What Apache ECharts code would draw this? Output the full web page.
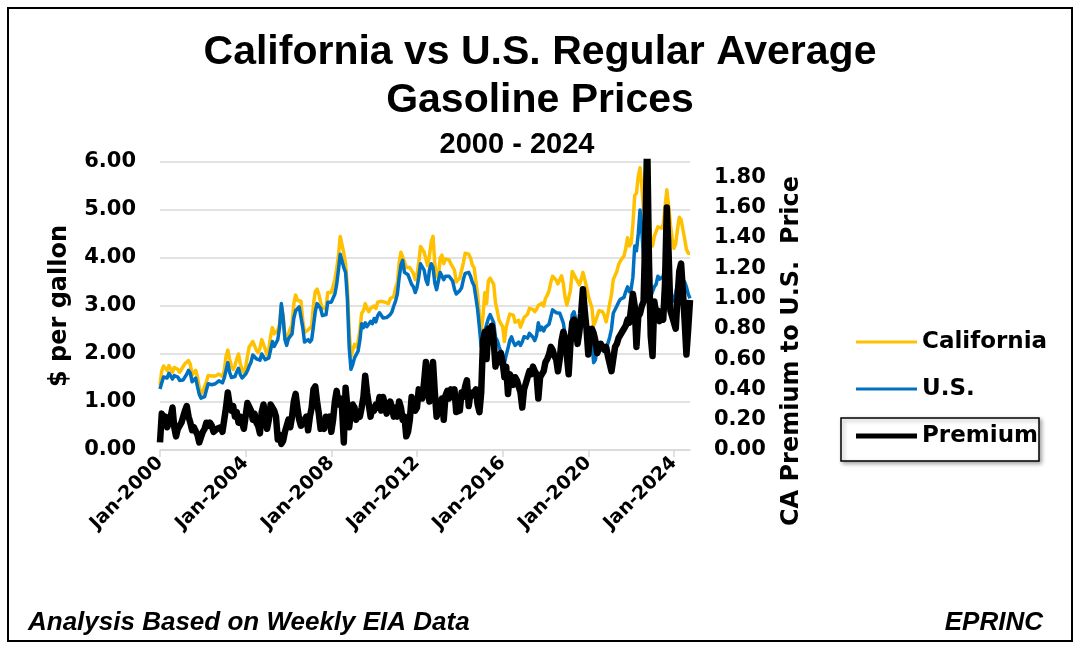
<!DOCTYPE html>
<html><head><meta charset="utf-8">
<script src="https://cdn.jsdelivr.net/npm/echarts@6/dist/echarts.min.js"></script>
<style>html,body{margin:0;padding:0;background:#fff}#c{width:1083px;height:653px}</style>
</head><body><div id="c"></div>
<script>
// Monthly categories Jan-2000 .. Oct-2024
const monthNames = ['Jan','Feb','Mar','Apr','May','Jun','Jul','Aug','Sep','Oct','Nov','Dec'];
const categories = [];
for (let y = 2000; y <= 2024; y++) {
  for (let m = 0; m < 12; m++) {
    if (y === 2024 && m > 9) break;
    categories.push(monthNames[m] + '-' + y);
  }
}
const leftTicks = [0, 1, 2, 3, 4, 5, 6];
const rightTicks = [0, 0.2, 0.4, 0.6, 0.8, 1.0, 1.2, 1.4, 1.6, 1.8];

// U.S. regular gasoline, $/gal (monthly)
const usPrice = [
1.27,1.40,1.52,1.48,1.50,1.60,1.57,1.48,1.55,1.53,1.52,1.45,
1.45,1.46,1.43,1.58,1.66,1.60,1.42,1.40,1.50,1.32,1.16,1.08,
1.10,1.11,1.25,1.38,1.38,1.36,1.39,1.38,1.39,1.44,1.42,1.40,
1.50,1.66,1.82,1.62,1.51,1.49,1.53,1.63,1.70,1.57,1.50,1.49,
1.58,1.65,1.75,1.83,1.98,1.96,1.90,1.87,1.87,2.00,1.99,1.88,
1.84,1.92,2.09,2.26,2.16,2.18,2.30,2.55,3.05,2.75,2.30,2.18,
2.32,2.30,2.42,2.75,2.90,2.86,2.98,2.95,2.55,2.25,2.22,2.30,
2.25,2.30,2.58,2.88,3.05,3.00,2.95,2.80,2.80,2.82,3.08,3.05,
3.08,3.05,3.25,3.45,3.75,4.08,4.10,3.80,3.70,3.15,2.15,1.68,
1.78,1.92,1.95,2.06,2.28,2.63,2.55,2.65,2.57,2.58,2.68,2.63,
2.74,2.67,2.80,2.86,2.88,2.75,2.75,2.76,2.72,2.82,2.88,3.00,
3.10,3.25,3.58,3.85,3.95,3.70,3.66,3.65,3.62,3.45,3.40,3.28,
3.38,3.60,3.88,3.92,3.75,3.55,3.45,3.75,3.88,3.80,3.48,3.34,
3.35,3.70,3.72,3.55,3.62,3.63,3.62,3.60,3.52,3.35,3.25,3.27,
3.32,3.38,3.55,3.68,3.68,3.70,3.62,3.50,3.42,3.18,2.92,2.55,
2.15,2.22,2.48,2.48,2.74,2.82,2.80,2.65,2.35,2.28,2.15,2.05,
1.95,1.80,1.98,2.12,2.28,2.36,2.25,2.18,2.22,2.25,2.18,2.25,
2.36,2.32,2.33,2.43,2.40,2.35,2.28,2.38,2.65,2.50,2.56,2.48,
2.56,2.60,2.62,2.77,2.92,2.90,2.86,2.86,2.85,2.88,2.65,2.40,
2.26,2.32,2.52,2.82,2.88,2.72,2.75,2.62,2.60,2.65,2.60,2.56,
2.56,2.45,2.25,1.82,1.88,2.10,2.20,2.18,2.18,2.16,2.12,2.22,
2.35,2.52,2.85,2.88,3.00,3.08,3.14,3.16,3.18,3.30,3.40,3.30,
3.35,3.60,4.25,4.15,4.50,5.00,4.55,4.00,3.75,3.85,3.55,3.20,
3.30,3.40,3.45,3.62,3.56,3.58,3.62,3.85,3.85,3.62,3.34,3.15,
3.10,3.28,3.45,3.70,3.75,3.55,3.50,3.40,3.25,3.16
];

// California regular gasoline, $/gal (monthly)
const caPrice = [
1.35,1.65,1.75,1.72,1.66,1.76,1.74,1.62,1.72,1.74,1.68,1.62,
1.64,1.74,1.80,1.84,1.86,1.78,1.56,1.55,1.66,1.52,1.30,1.16,
1.22,1.25,1.42,1.55,1.56,1.54,1.56,1.54,1.54,1.58,1.56,1.53,
1.65,1.95,2.08,1.90,1.75,1.68,1.75,1.90,2.00,1.80,1.68,1.62,
1.72,1.95,2.15,2.20,2.26,2.22,2.08,2.03,2.12,2.30,2.32,2.10,
1.98,2.10,2.38,2.55,2.42,2.40,2.50,2.62,3.02,2.80,2.40,2.28,
2.42,2.45,2.62,3.05,3.23,3.12,3.15,3.10,2.70,2.45,2.44,2.50,
2.48,2.58,3.03,3.30,3.35,3.25,3.08,2.95,2.95,2.95,3.28,3.25,
3.28,3.30,3.55,3.78,4.05,4.45,4.48,4.10,3.88,3.40,2.48,1.95,
2.08,2.20,2.15,2.25,2.50,2.85,2.90,3.05,2.95,2.88,2.95,2.92,
3.00,2.95,3.08,3.12,3.10,3.10,3.08,3.08,3.05,3.15,3.15,3.20,
3.38,3.48,3.90,4.12,4.14,3.92,3.80,3.76,3.80,3.78,3.68,3.55,
3.65,3.90,4.24,4.26,4.12,3.98,3.84,4.05,4.34,4.45,3.88,3.64,
3.58,4.00,4.06,3.88,3.98,4.02,3.96,3.88,3.88,3.75,3.50,3.50,
3.58,3.62,3.90,4.10,4.14,4.08,4.00,3.86,3.80,3.52,3.22,2.80,
2.50,2.78,3.28,3.05,3.52,3.58,3.62,3.45,3.07,2.90,2.70,2.67,
2.57,2.26,2.56,2.52,2.83,2.86,2.81,2.66,2.68,2.70,2.56,2.57,
2.76,2.80,2.83,2.95,2.95,2.93,2.88,2.93,3.01,3.02,3.06,3.00,
3.16,3.22,3.32,3.49,3.62,3.58,3.54,3.46,3.47,3.63,3.47,3.18,
3.02,3.05,3.32,3.72,3.72,3.58,3.55,3.44,3.55,3.70,3.56,3.40,
3.21,3.22,2.97,2.59,2.68,2.72,2.90,2.94,2.88,2.80,2.67,2.84,
3.05,3.24,3.55,3.56,3.72,3.86,3.94,3.98,4.04,4.20,4.42,4.25,
4.30,4.70,5.30,5.35,5.70,5.88,5.50,5.00,5.20,5.85,5.00,4.30,
4.25,4.45,4.55,4.65,4.62,4.62,4.70,5.05,5.42,5.10,4.70,4.40,
4.20,4.30,4.60,4.85,4.80,4.60,4.40,4.18,4.10,4.10
];

// CA premium to U.S. price, $/gal (monthly)
const premium = [
0.05,0.24,0.20,0.22,0.15,0.18,0.22,0.28,0.15,0.09,0.14,0.16,
0.18,0.22,0.26,0.29,0.22,0.18,0.13,0.15,0.16,0.10,0.05,0.04,
0.12,0.14,0.18,0.16,0.18,0.16,0.12,0.11,0.14,0.13,0.15,0.12,
0.13,0.28,0.38,0.30,0.26,0.29,0.22,0.25,0.18,0.22,0.18,0.14,
0.14,0.31,0.30,0.26,0.20,0.24,0.18,0.16,0.11,0.25,0.30,0.22,
0.14,0.20,0.30,0.28,0.26,0.22,0.07,0.10,0.04,0.06,0.12,0.12,
0.20,0.15,0.22,0.32,0.37,0.28,0.20,0.16,0.15,0.20,0.22,0.13,
0.22,0.28,0.40,0.42,0.32,0.24,0.14,0.16,0.14,0.22,0.20,0.22,
0.12,0.20,0.32,0.39,0.30,0.34,0.28,0.05,0.41,0.28,0.15,0.25,
0.30,0.28,0.20,0.24,0.22,0.28,0.35,0.49,0.38,0.30,0.22,0.28,
0.26,0.30,0.28,0.35,0.26,0.35,0.30,0.24,0.28,0.32,0.28,0.22,
0.28,0.22,0.32,0.28,0.20,0.22,0.09,0.12,0.20,0.35,0.28,0.26,
0.28,0.40,0.36,0.34,0.45,0.58,0.40,0.32,0.50,0.58,0.38,0.22,
0.22,0.30,0.34,0.20,0.36,0.39,0.34,0.40,0.36,0.40,0.25,0.24,
0.26,0.38,0.35,0.42,0.46,0.29,0.38,0.36,0.38,0.40,0.30,0.25,
0.38,0.72,0.78,0.60,0.80,0.76,0.82,0.72,0.55,0.62,0.58,0.64,
0.58,0.48,0.55,0.37,0.50,0.48,0.43,0.48,0.46,0.45,0.38,0.28,
0.40,0.44,0.48,0.52,0.50,0.55,0.52,0.50,0.34,0.48,0.50,0.52,
0.58,0.60,0.63,0.68,0.66,0.62,0.60,0.52,0.60,0.72,0.78,0.74,
0.74,0.50,0.70,0.84,0.86,0.80,0.70,0.78,0.90,1.06,0.92,0.80,
0.63,0.75,0.80,0.77,0.72,0.64,0.63,0.70,0.68,0.66,0.68,0.62,
0.62,0.52,0.60,0.68,0.70,0.74,0.76,0.78,0.80,0.82,0.86,0.84,
0.85,1.03,0.95,0.68,0.88,0.90,0.95,0.98,1.45,2.05,1.25,0.75,
0.62,0.98,0.90,0.92,0.85,0.88,0.86,1.10,1.60,1.30,0.92,0.88,
0.88,0.80,1.00,1.18,1.23,1.05,0.85,0.63,0.80,0.99
];

const AXF = 'DejaVu Sans';
const chart = echarts.init(document.getElementById('c'), null, {renderer: 'canvas'});
const legendText = {color: '#000', fontFamily: AXF, fontWeight: 'bold', fontSize: 23, lineHeight: 24};
function lg(name, top, h) {
  return {data: [name], left: 856, top: top, orient: 'vertical', padding: 0, icon: 'rect',
          itemWidth: 61, itemHeight: h, itemGap: 0, textStyle: legendText, z: 10};
}
chart.setOption({
  animation: false,
  backgroundColor: '#fff',
  grid: {left: 160, right: 393, top: 162, bottom: 203, containLabel: false},
  xAxis: {
    type: 'category', data: categories, boundaryGap: false,
    axisLine: {show: true, lineStyle: {color: '#d9d9d9', width: 1.5}},
    axisTick: {show: true, interval: 47, length: 7, lineStyle: {color: '#d9d9d9', width: 1.5}},
    axisLabel: {interval: 47, rotate: 45, margin: 10, color: '#000', fontFamily: AXF, fontWeight: 'bold', fontSize: 19},
    splitLine: {show: false}
  },
  yAxis: [
    {type: 'value', min: leftTicks[0], max: leftTicks[leftTicks.length - 1], interval: 1,
     axisLine: {show: false}, axisTick: {show: false},
     axisLabel: {margin: 24, color: '#000', fontFamily: AXF, fontWeight: 'bold', fontSize: 21,
                 formatter: v => v.toFixed(2)},
     splitLine: {show: true, lineStyle: {color: '#d9d9d9', width: 1.5}}},
    {type: 'value', position: 'right', min: 0, max: 1.9, interval: 0.2,
     axisLine: {show: false}, axisTick: {show: false},
     axisLabel: {margin: 24, color: '#000', fontFamily: AXF, fontWeight: 'bold', fontSize: 21,
                 formatter: v => (rightTicks.some(t => Math.abs(t - v) < 1e-6) ? v.toFixed(2) : '')},
     splitLine: {show: false}}
  ],
  legend: [lg('California', 330, 3), lg('U.S.', 377, 3), lg('Premium', 424, 5)],
  series: [
    {name: 'California', type: 'line', data: caPrice, yAxisIndex: 0, symbol: 'none', showSymbol: false,
     lineStyle: {color: '#FFC000', width: 3.5, join: 'round'}, itemStyle: {color: '#FFC000'}, z: 2},
    {name: 'U.S.', type: 'line', data: usPrice, yAxisIndex: 0, symbol: 'none', showSymbol: false,
     lineStyle: {color: '#0070C0', width: 3.5, join: 'round'}, itemStyle: {color: '#0070C0'}, z: 3},
    {name: 'Premium', type: 'line', data: premium, yAxisIndex: 1, symbol: 'none', showSymbol: false,
     lineStyle: {color: '#000', width: 6.5, join: 'round'}, itemStyle: {color: '#000'}, z: 4}
  ],
  graphic: [
    {type: 'rect', z: -1, shape: {x: 8, y: 8, width: 1064, height: 633},
     style: {fill: 'none', stroke: '#000', lineWidth: 2}},
    {type: 'rect', z: 1, shape: {x: 841, y: 418, width: 198, height: 43},
     style: {fill: '#fff', stroke: '#000', lineWidth: 1.5, shadowBlur: 4, shadowColor: 'rgba(0,0,0,0.35)', shadowOffsetX: 2, shadowOffsetY: 2}},
    {type: 'text', x: 540, y: 53, style: {text: 'California vs U.S. Regular Average', font: 'bold 41px "Liberation Sans"', fill: '#000', textAlign: 'center', textVerticalAlign: 'middle', align: 'center', verticalAlign: 'middle'}},
    {type: 'text', x: 540, y: 101, style: {text: 'Gasoline Prices', font: 'bold 41px "Liberation Sans"', fill: '#000', textAlign: 'center', textVerticalAlign: 'middle', align: 'center', verticalAlign: 'middle'}},
    {type: 'text', x: 517, y: 145, style: {text: '2000 - 2024', font: 'bold 29px "Liberation Sans"', fill: '#000', textAlign: 'center', textVerticalAlign: 'middle', align: 'center', verticalAlign: 'middle'}},
    {type: 'text', x: 60, y: 306, rotation: Math.PI / 2, style: {text: '$ per gallon', font: 'bold 24px "DejaVu Sans"', fill: '#000', textAlign: 'center', textVerticalAlign: 'middle', align: 'center', verticalAlign: 'middle'}},
    {type: 'text', x: 792, y: 351, rotation: Math.PI / 2, style: {text: 'CA Premium to U.S.  Price', font: 'bold 24px "DejaVu Sans"', fill: '#000', textAlign: 'center', textVerticalAlign: 'middle', align: 'center', verticalAlign: 'middle'}},
    {type: 'text', x: 28, y: 623, style: {text: 'Analysis Based on Weekly EIA Data', font: 'italic bold 26px "Liberation Sans"', fill: '#000', textAlign: 'left', textVerticalAlign: 'middle', align: 'left', verticalAlign: 'middle'}},
    {type: 'text', x: 1043, y: 623, style: {text: 'EPRINC', font: 'italic bold 26px "Liberation Sans"', fill: '#000', textAlign: 'right', textVerticalAlign: 'middle', align: 'right', verticalAlign: 'middle'}}
  ]
});
</script></body></html>
